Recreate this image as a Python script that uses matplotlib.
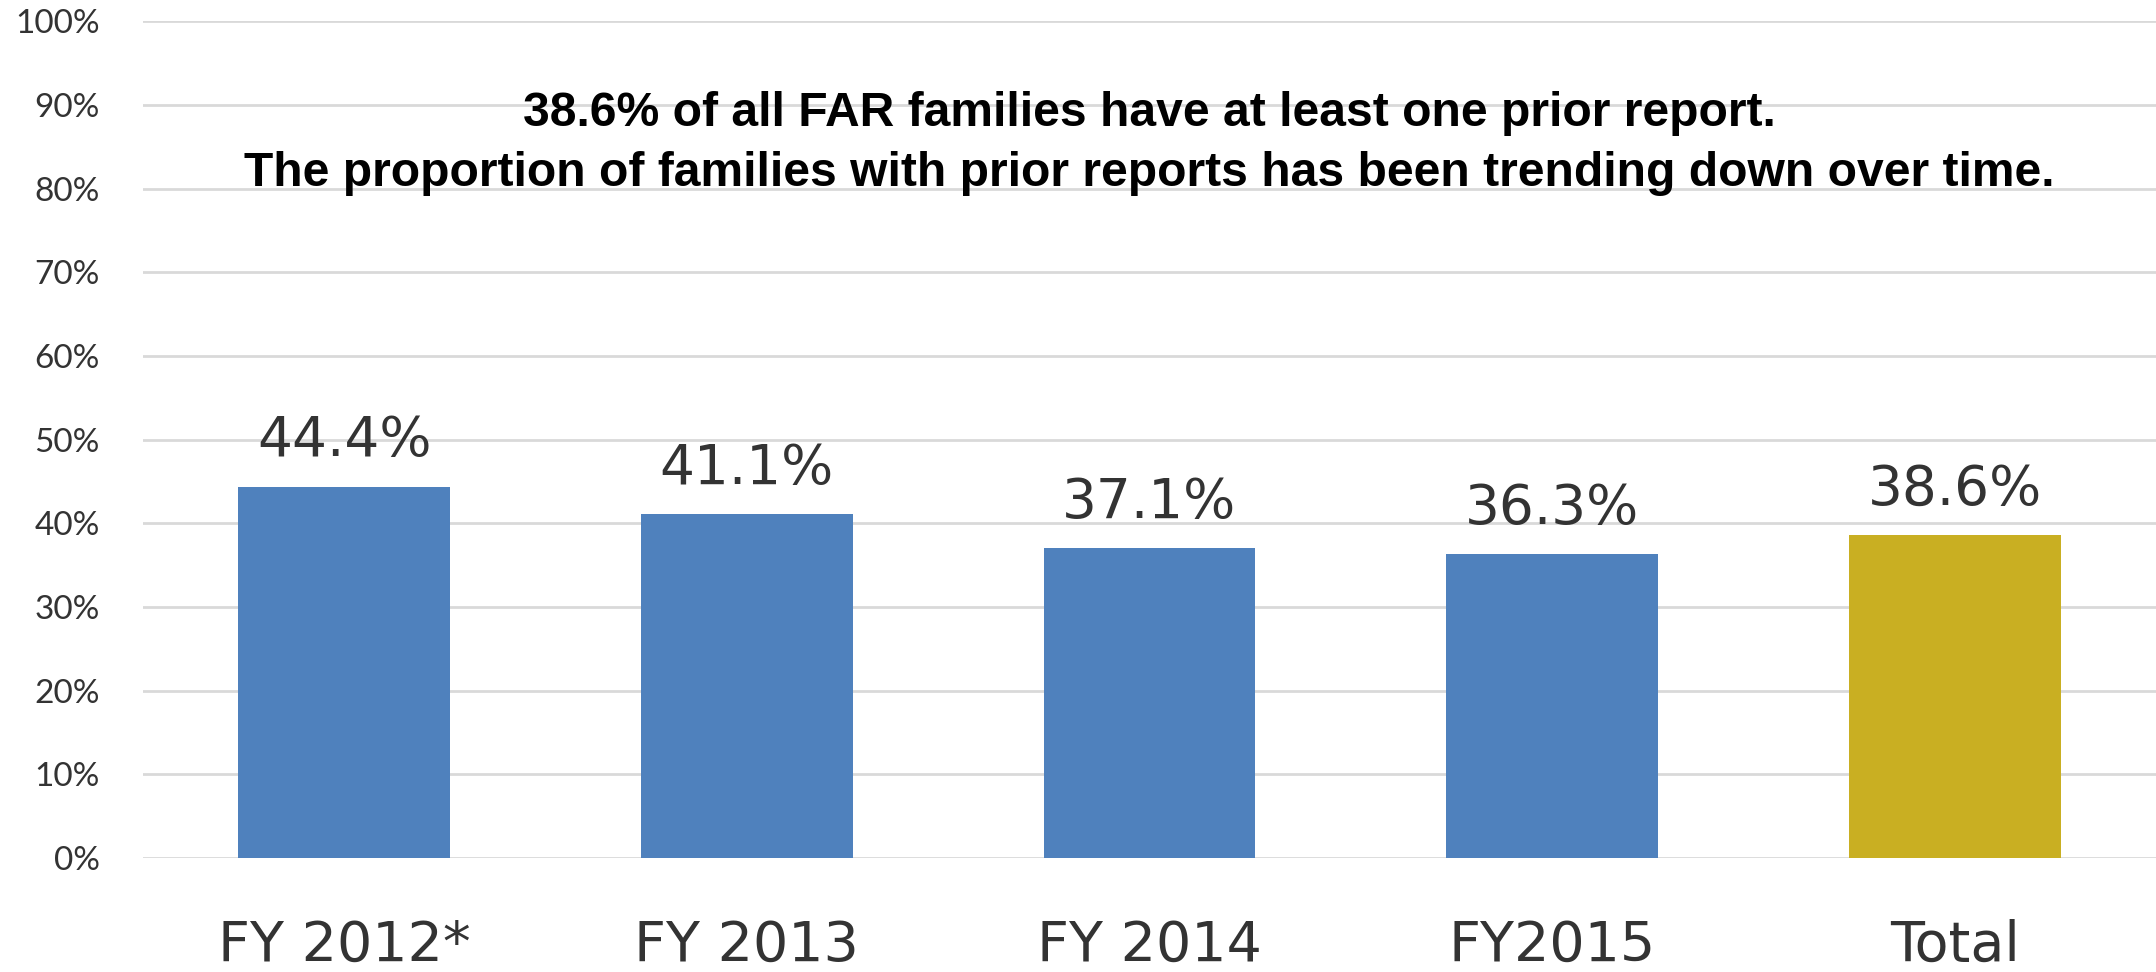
import matplotlib
matplotlib.use("Agg")
import matplotlib.pyplot as plt
from matplotlib.ticker import PercentFormatter

categories = ["FY 2012*", "FY 2013", "FY 2014", "FY2015", "Total"]
values = [44.4, 41.1, 37.1, 36.3, 38.6]
bar_colors = ["#4F81BD", "#4F81BD", "#4F81BD", "#4F81BD", "#C9AF22"]
yticks = list(range(0, 101, 10))
note = ("38.6% of all FAR families have at least one prior report.\n"
        "The proportion of families with prior reports has been trending down over time.")

text_col = "#333333"

fig = plt.figure(figsize=(21.56, 9.72), dpi=100)
ax = fig.add_axes([0.0663, 0.1173, 0.9337, 0.8607])

x = range(len(categories))
bars = ax.bar(x, values, width=0.526, color=bar_colors, zorder=2)

for b, v in zip(bars, values):
    ax.annotate(f"{v:.1f}%", (b.get_x() + b.get_width() / 2, v),
                xytext=(0, 13), textcoords="offset points",
                ha="center", va="bottom", fontsize=39.5, color=text_col)

ax.set_xlim(-0.5, len(categories) - 0.5)
ax.set_ylim(0, 100)
ax.set_yticks(yticks)
ax.yaxis.set_major_formatter(PercentFormatter(decimals=0))
ax.set_xticks(list(x))
ax.set_xticklabels(categories)

ax.grid(axis="y", color="#D9D9D9", linewidth=2, zorder=0)
for s in ax.spines.values():
    s.set_visible(False)
ax.tick_params(axis="y", length=0, pad=31, labelsize=24, labelcolor=text_col)
ax.tick_params(axis="x", length=0, pad=44, labelsize=40, labelcolor=text_col)
for lab in ax.get_yticklabels():
    lab.set_family("Lato")

ax.text(0.5, 85.4, note, transform=ax.get_yaxis_transform(), ha="center",
        va="center", fontsize=34.6, fontweight="bold", family="Liberation Sans",
        linespacing=1.45, color="black")

fig.savefig("out.png", dpi=100)
